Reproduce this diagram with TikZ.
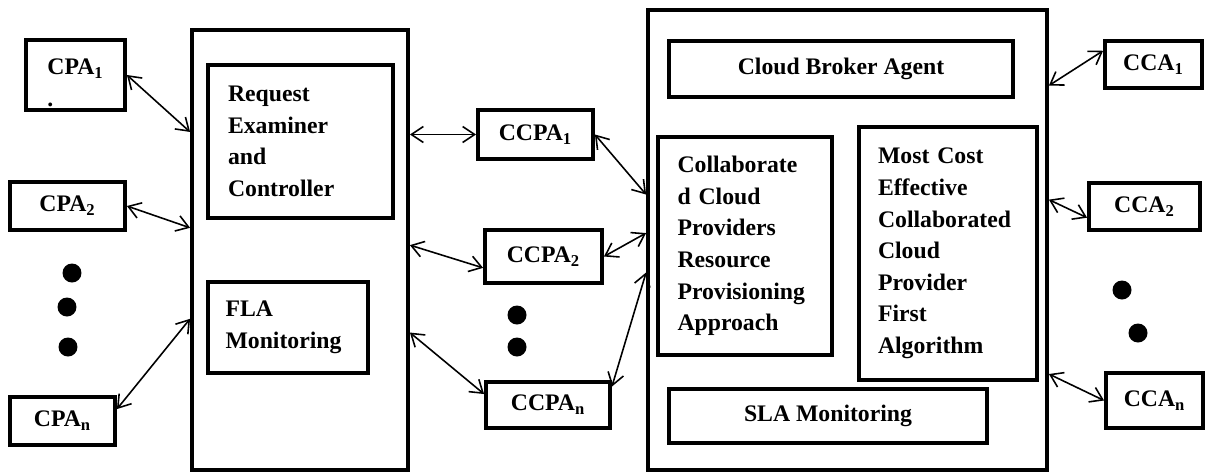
\documentclass[tikz,border=0pt]{standalone}
\usepackage{fontspec}
\setmainfont{Liberation Serif}
\usetikzlibrary{positioning, calc, arrows.meta}

\begin{document}
\begin{tikzpicture}[x=0.02cm, y=-0.02cm,
					every node/.style={font=\bfseries\fontsize{13.5}{18}\selectfont},
					agent/.style={draw, line width=2.2pt, align=left},
					block/.style={draw, line width=2.2pt, align=left},
					link/.style={line width=0.9pt, {Straight Barb[length=2.4mm,width=3.2mm]}-{Straight Barb[length=2.4mm,width=3.2mm]}}]
					\useasboundingbox (0,0) rectangle (1206,474);
					\node[block, minimum width=4.32cm, minimum height=8.8cm] (ctrl) at (300,250) {};
					\node[block, minimum width=7.98cm, minimum height=9.2cm] (brk) at (847.5,240) {};
					\node[block, minimum width=3.7cm, minimum height=3.06cm, text width=2.9cm] (rec) at (300.5,141.5)
					{Request\\Examiner\\and\\Controller};
					\node[block, minimum width=3.2cm, minimum height=1.82cm, text width=2.5cm] (fla) at (288,327.5)
					{FLA\\Monitoring};
					\node[block, minimum width=6.88cm, minimum height=1.12cm] (cba) at (841,69) {Cloud Broker Agent};
					\node[block, minimum width=3.48cm, minimum height=4.36cm, text width=2.7cm] (ccrp) at (745,246)
					{Collaborate\\d Cloud\\Providers\\Resource\\Provisioning\\Approach};
					\node[block, minimum width=3.56cm, minimum height=5.06cm, text width=2.8cm] (mce) at (948,253.5)
					{Most Cost\\Effective\\Collaborated\\Cloud\\Provider\\First\\Algorithm};
					\node[block, minimum width=6.36cm, minimum height=1.08cm] (sla) at (828,416) {SLA Monitoring};
					\node[agent, minimum width=1.98cm, minimum height=1.4cm, inner ysep=0pt] (cpa1) at (75.5,75) {\rule{0pt}{0.63cm}CPA\textsubscript{1}\\.};
					\node[agent, minimum width=2.3cm, minimum height=0.96cm] (cpa2) at (67.5,206) {CPA\textsubscript{2}};
					\node[agent, minimum width=2.1cm, minimum height=0.96cm] (cpan) at (62.5,421) {CPA\textsubscript{n}};
					\node[agent, minimum width=2.3cm, minimum height=0.98cm] (ccpa1) at (535.5,134.5) {CCPA\textsubscript{1}};
					\node[agent, minimum width=2.34cm, minimum height=1.06cm] (ccpa2) at (543.5,256.5) {CCPA\textsubscript{2}};
					\node[agent, minimum width=2.48cm, minimum height=0.92cm] (ccpan) at (548,405) {CCPA\textsubscript{n}};
					\node[agent, minimum width=1.94cm, minimum height=0.94cm] (cca1) at (1153.5,64.5) {CCA\textsubscript{1}};
					\node[agent, minimum width=2.22cm, minimum height=0.94cm] (cca2) at (1144.5,206.5) {CCA\textsubscript{2}};
					\node[agent, minimum width=1.94cm, minimum height=1.1cm] (ccan) at (1154.5,400.5) {CCA\textsubscript{n}};
					\fill (72,273) circle (0.19cm) (67,307) circle (0.19cm) (68,347) circle (0.19cm);
					\fill (517,315) circle (0.19cm) (517,347) circle (0.19cm);
					\fill (1122,290) circle (0.19cm) (1138,333) circle (0.19cm);
					\draw[link] (cpa1.east) -- ($(ctrl.north west)!0.234!(ctrl.south west)$);
					\draw[link] (cpa2.east) -- ($(ctrl.north west)!0.45!(ctrl.south west)$);
					\draw[link] ($(cpan.north east)!0.27!(cpan.south east)$) -- ($(ctrl.north west)!0.655!(ctrl.south west)$);
					\draw[link] (ccpa1.west -| ctrl.east) -- (ccpa1.west);
					\draw[link] ($(ctrl.north east)!0.489!(ctrl.south east)$) -- ($(ccpa2.north west)!0.7!(ccpa2.south west)$);
					\draw[link] ($(ctrl.north east)!0.686!(ctrl.south east)$) -- ($(ccpan.north west)!0.28!(ccpan.south west)$);
					\draw[link] (ccpa1.east) -- ($(brk.north west)!0.402!(brk.south west)$);
					\draw[link] (ccpa2.east) -- ($(brk.north west)!0.485!(brk.south west)$);
					\draw[link] ($(ccpan.north east)!0.13!(ccpan.south east)$) -- ($(brk.north west)!0.57!(brk.south west)$);
					\draw[link] ($(brk.north east)!0.167!(brk.south east)$) -- ($(cca1.north west)!0.23!(cca1.south west)$);
					\draw[link] ($(brk.north east)!0.413!(brk.south east)$) -- ($(cca2.north west)!0.72!(cca2.south west)$);
					\draw[link] ($(brk.north east)!0.789!(brk.south east)$) -- (ccan.west);
				\end{tikzpicture}
\end{document}
